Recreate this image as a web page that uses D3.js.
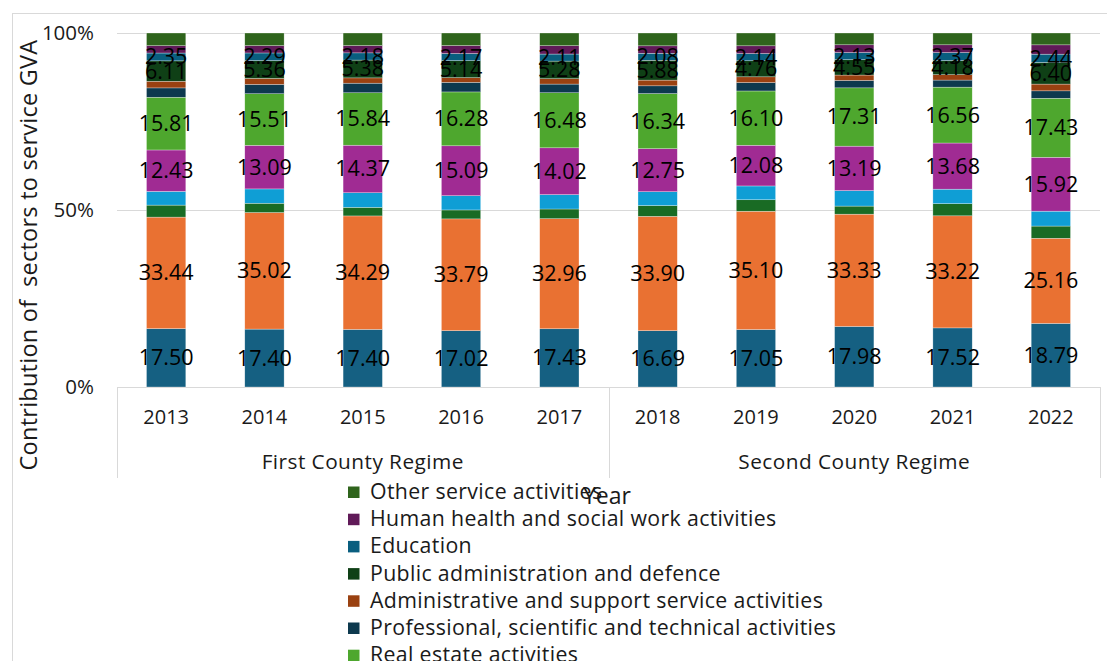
<!DOCTYPE html>
<html>
<head>
<meta charset="utf-8">
<script src="https://cdn.jsdelivr.net/npm/d3@7"></script>
<style>
  html, body { margin: 0; padding: 0; background: #fff; overflow: hidden; }
  svg { display: block; font-family: "Open Sans", "Liberation Sans", Arial, sans-serif; }
</style>
</head>
<body>
<svg id="chart" width="1107" height="661"></svg>
<script>
// Years and the county regime each year belongs to
const years = ["2013", "2014", "2015", "2016", "2017", "2018", "2019", "2020", "2021", "2022"];
const regimeNames = ["First County Regime", "Second County Regime"];
const regimeOfYear = [0, 0, 0, 0, 0, 1, 1, 1, 1, 1];

// Sector shares of service GVA, one array per sector (stacked bottom to top)
const wholesale     = [17.50, 17.40, 17.40, 17.02, 17.43, 16.69, 17.05, 17.98, 17.52, 18.79];
const transport     = [33.44, 35.02, 34.29, 33.79, 32.96, 33.90, 35.10, 33.33, 33.22, 25.16];
const accommodation = [3.6, 2.8, 2.6, 2.7, 2.9, 3.2, 3.4, 2.4, 3.6, 3.6];
const infoComm      = [4.1, 4.3, 4.4, 4.3, 4.3, 4.1, 4.1, 4.6, 4.3, 4.4];
const financial     = [12.43, 13.09, 14.37, 15.09, 14.02, 12.75, 12.08, 13.19, 13.68, 15.92];
const realEstate    = [15.81, 15.51, 15.84, 16.28, 16.48, 16.34, 16.10, 17.31, 16.56, 17.43];
const professional  = [2.8, 2.8, 2.9, 2.9, 2.6, 2.3, 2.5, 2.2, 2.1, 2.2];
const adminSupport  = [2.0, 1.8, 1.6, 1.4, 1.6, 1.7, 1.7, 1.6, 1.6, 2.0];
const publicAdmin   = [6.11, 5.36, 5.38, 5.14, 5.28, 5.88, 4.76, 4.55, 4.18, 6.40];
const education     = [2.35, 2.29, 2.18, 2.17, 2.11, 2.08, 2.14, 2.13, 2.37, 2.44];
const health        = [2.2, 2.2, 2.2, 2.4, 2.5, 2.2, 2.3, 2.3, 2.3, 2.75];
const otherServices = [3.8, 3.8, 3.8, 3.8, 3.8, 3.8, 3.8, 3.5, 3.5, 3.5];

const yTicks = [0, 0.5, 1];

// Series table: name, values, fill, whether values are printed on the bars
const series = [
  { name: "Wholesale and retail trade", values: wholesale, color: "#156082", label: true },
  { name: "Transport and storage", values: transport, color: "#E97132", label: true },
  { name: "Accommodation and food service activities", values: accommodation, color: "#196B24", label: false },
  { name: "Information and communication", values: infoComm, color: "#0F9ED5", label: false },
  { name: "Financial and insurance activities", values: financial, color: "#A02B93", label: true },
  { name: "Real estate activities", values: realEstate, color: "#4EA72E", label: true },
  { name: "Professional, scientific and technical activities", values: professional, color: "#0D394E", label: false },
  { name: "Administrative and support service activities", values: adminSupport, color: "#9A4111", label: false },
  { name: "Public administration and defence", values: publicAdmin, color: "#0F4016", label: true },
  { name: "Education", values: education, color: "#095E7F", label: true },
  { name: "Human health and social work activities", values: health, color: "#601A58", label: false },
  { name: "Other service activities", values: otherServices, color: "#2F641C", label: false }
];

const svg = d3.select("#chart");
const plot = { left: 117, right: 1100, top: 33, bottom: 387 };

// Chart frame
svg.append("rect")
  .attr("x", 12.5).attr("y", 13.5)
  .attr("width", 1200).attr("height", 800)
  .attr("fill", "none").attr("stroke", "#d9d9d9").attr("stroke-width", 1);

const x = d3.scaleBand().domain(years)
  .range([plot.left, plot.right])
  .paddingInner(0.6).paddingOuter(0.3);
const y = d3.scaleLinear().domain([0, 1]).range([plot.bottom, plot.top]);

// Build 100% stacked rows
const rows = years.map((yr, i) => {
  const row = { year: yr };
  series.forEach(s => { row[s.name] = s.values[i]; });
  return row;
});
const stack = d3.stack()
  .keys(series.map(s => s.name))
  .offset(d3.stackOffsetExpand);
const stacked = stack(rows);

// Gridlines
svg.append("g").selectAll("line").data(yTicks).join("line")
  .attr("x1", plot.left).attr("x2", plot.right)
  .attr("y1", d => Math.round(y(d)) + 0.5).attr("y2", d => Math.round(y(d)) + 0.5)
  .attr("stroke", "#d9d9d9").attr("stroke-width", 1);

// Value axis labels
svg.append("g").selectAll("text").data(yTicks).join("text")
  .attr("x", 94).attr("y", d => y(d) + 7)
  .attr("text-anchor", "end")
  .attr("font-size", 20.5).attr("fill", "#1a1a1a")
  .text(d => d3.format(".0%")(d));

// Bars
const layers = svg.append("g").selectAll("g").data(stacked).join("g")
  .attr("fill", (d, i) => series[i].color);
layers.selectAll("rect").data(d => d).join("rect")
  .attr("x", d => x(d.data.year))
  .attr("width", x.bandwidth())
  .attr("y", d => y(d[1]))
  .attr("height", d => y(d[0]) - y(d[1]))
  .attr("stroke", "#ffffff").attr("stroke-width", 0.5).attr("stroke-opacity", 0.6);

// Data labels on selected sectors
const labelled = stacked.filter((d, i) => series[i].label);
svg.append("g").selectAll("g").data(labelled).join("g")
  .selectAll("text").data(d => d.map(p => ({ p, key: d.key }))).join("text")
  .attr("x", d => x(d.p.data.year) + x.bandwidth() / 2)
  .attr("y", d => (y(d.p[0]) + y(d.p[1])) / 2 + 7.5)
  .attr("text-anchor", "middle")
  .attr("font-size", 21.5).attr("fill", "#000")
  .text(d => d3.format(".2f")(d.p.data[d.key]));

// Multi-level category axis
const axisG = svg.append("g");
const step = x.step();
const dividers = [plot.left, plot.left + step * 5, plot.right];
axisG.selectAll("line").data(dividers).join("line")
  .attr("x1", d => Math.round(d) + 0.5).attr("x2", d => Math.round(d) + 0.5)
  .attr("y1", plot.bottom).attr("y2", 478)
  .attr("stroke", "#d9d9d9").attr("stroke-width", 1);

axisG.selectAll("text.year").data(years).join("text")
  .attr("class", "year")
  .attr("x", d => x(d) + x.bandwidth() / 2).attr("y", 424)
  .attr("text-anchor", "middle")
  .attr("font-size", 20).attr("fill", "#1a1a1a")
  .text(d => d);

axisG.selectAll("text.regime").data(regimeNames).join("text")
  .attr("class", "regime")
  .attr("x", (d, r) => {
    const ys = years.filter((yr, i) => regimeOfYear[i] === r);
    return (x(ys[0]) + x(ys[ys.length - 1]) + x.bandwidth()) / 2;
  })
  .attr("y", 469)
  .attr("text-anchor", "middle")
  .attr("font-size", 20.8).attr("letter-spacing", 0.45).attr("fill", "#1a1a1a")
  .text(d => d);

// Axis titles
svg.append("text")
  .attr("transform", "translate(37,255) rotate(-90)")
  .attr("text-anchor", "middle")
  .attr("font-size", 23.5).attr("letter-spacing", 0.25).attr("fill", "#1a1a1a")
  .attr("xml:space", "preserve")
  .style("white-space", "pre")
  .text("Contribution of  sectors to service GVA");

// Legend, listed top of stack first
const legend = svg.append("g");
const legendItems = series.slice().reverse();
const lg = legend.selectAll("g").data(legendItems).join("g")
  .attr("transform", (d, i) => `translate(348,${492.5 + i * 27.2})`);
lg.append("rect")
  .attr("x", 0).attr("y", -6).attr("width", 11.5).attr("height", 11.5)
  .attr("fill", d => d.color);
lg.append("text")
  .attr("x", 22).attr("y", 6.5)
  .attr("font-size", 21.3).attr("letter-spacing", 0.35).attr("fill", "#1a1a1a")
  .text(d => d.name);

svg.append("text")
  .attr("x", 607).attr("y", 504)
  .attr("text-anchor", "middle")
  .attr("font-size", 23).attr("fill", "#1a1a1a")
  .text("Year");
</script>
</body>
</html>
